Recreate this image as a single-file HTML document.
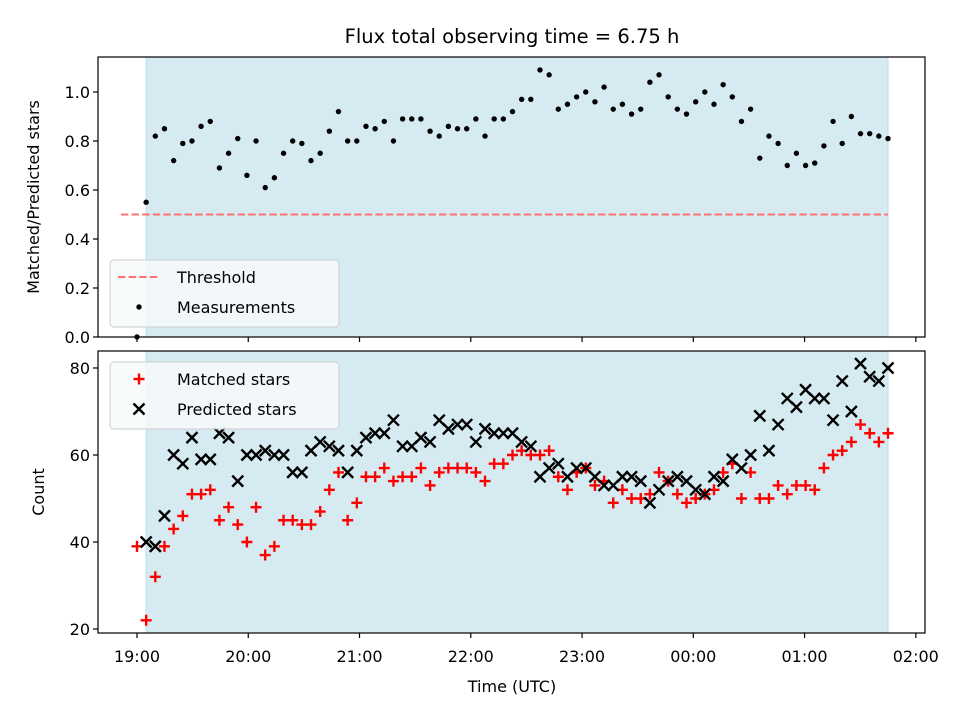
<!DOCTYPE html>
<html><head><meta charset="utf-8"><style>
body{margin:0;background:#fff}
svg{display:block;font-family:"DejaVu Sans","Liberation Sans",sans-serif}
</style></head><body>
<svg id="fig" width="960" height="720" viewBox="0 0 960 720"></svg>
<script>
const ratio=[0.00,0.55,0.82,0.85,0.72,0.79,0.80,0.86,0.88,0.69,0.75,0.81,0.66,0.80,0.61,0.65,0.75,0.80,0.79,0.72,0.75,0.84,0.92,0.80,0.80,0.86,0.85,0.88,0.80,0.89,0.89,0.89,0.84,0.82,0.86,0.85,0.85,0.89,0.82,0.89,0.89,0.92,0.97,0.97,1.09,1.07,0.93,0.95,0.98,1.00,0.96,1.02,0.93,0.95,0.91,0.93,1.04,1.07,0.98,0.93,0.91,0.96,1.00,0.95,1.03,0.98,0.88,0.93,0.73,0.82,0.79,0.70,0.75,0.70,0.71,0.78,0.88,0.79,0.90,0.83,0.83,0.82,0.81];
const matched=[39,22,32,39,43,46,51,51,52,45,48,44,40,48,37,39,45,45,44,44,47,52,56,45,49,55,55,57,54,55,55,57,53,56,57,57,57,56,54,58,58,60,61,60,60,61,55,52,56,57,53,54,49,52,50,50,51,56,54,51,49,50,51,52,56,58,50,56,50,50,53,51,53,53,52,57,60,61,63,67,65,63,65];
const predicted=[null,40,39,46,60,58,64,59,59,65,64,54,60,60,61,60,60,56,56,61,63,62,61,56,61,64,65,65,68,62,62,64,63,68,66,67,67,63,66,65,65,65,63,62,55,57,58,55,57,57,55,53,53,55,55,54,49,52,54,55,54,52,51,55,54,59,57,60,69,61,67,73,71,75,73,73,68,77,70,81,78,77,80];
const threshold=0.5;
const totalHours=6.75;
const xTickLabels=["19:00","20:00","21:00","22:00","23:00","00:00","01:00","02:00"];
const topYTicks=[0.0,0.2,0.4,0.6,0.8,1.0];
const botYTicks=[20,40,60,80];

const NS="http://www.w3.org/2000/svg";
const svg=document.getElementById('fig');
function el(tag,attrs,parent){const e=document.createElementNS(NS,tag);for(const k in attrs)e.setAttribute(k,attrs[k]);(parent||svg).appendChild(e);return e;}
const L=98,R=925;
const T1=57,B1=337,T2=351,B2=633;
const hx=h=>137+h*111.26;
const times=ratio.map((_,i)=>i*totalHours/(ratio.length-1));
const y1=v=>337-v*245;
const y2=v=>368+(80-v)*4.35;

[[T1,B1,'top'],[T2,B2,'bottom']].forEach(([t,b,n])=>{
  const r=el('rect',{x:L,y:t,width:R-L,height:b-t,fill:'#fff'});
  
  const s=el('rect',{x:hx(times[1]),y:t,width:hx(times[times.length-1])-hx(times[1]),height:b-t,fill:'#d5ebf1',stroke:'#bcdde8','stroke-width':1});
  
});

const th=el('line',{x1:121,x2:hx(times[times.length-1]),y1:y1(threshold),y2:y1(threshold),stroke:'#ff7070','stroke-width':2,'stroke-dasharray':'7.4,3.2'});


ratio.forEach((v,i)=>{const c=el('circle',{cx:hx(times[i]),cy:y1(v),r:2.7,fill:'#000'});
});

function plus(x,y,col){return el('path',{d:`M${x-5.5},${y}H${x+5.5}M${x},${y-5.5}V${y+5.5}`,stroke:col,'stroke-width':2.4,fill:'none'});}
function cross(x,y,col){return el('path',{d:`M${x-5.5},${y-5.5}L${x+5.5},${y+5.5}M${x-5.5},${y+5.5}L${x+5.5},${y-5.5}`,stroke:col,'stroke-width':2.4,fill:'none'});}
matched.forEach((v,i)=>{const p=plus(hx(times[i]),y2(v),'#ff0000');
});
predicted.forEach((v,i)=>{if(v==null)return;const p=cross(hx(times[i]),y2(v),'#000');
});

[[T1,B1,'top'],[T2,B2,'bottom']].forEach(([t,b,n])=>{
  const r=el('rect',{x:L,y:t,width:R-L,height:b-t,fill:'none',stroke:'#000','stroke-width':1.2});
  
  xTickLabels.forEach((lab,i)=>{const x=hx(i);const tk=el('line',{x1:x,x2:x,y1:b,y2:b+5,stroke:'#000','stroke-width':1.2});
   
   if(n==='bottom'){const tx=el('text',{x:x,y:b+29,'font-size':16,'text-anchor':'middle'});tx.textContent=lab;
   }});
});
topYTicks.forEach(v=>{const y=y1(v);el('line',{x1:L-5,x2:L,y1:y,y2:y,stroke:'#000','stroke-width':1.2});
 const t=el('text',{x:L-8,y:y+6,'font-size':16,'text-anchor':'end'});t.textContent=v.toFixed(1);
 });
botYTicks.forEach(v=>{const y=y2(v);el('line',{x1:L-5,x2:L,y1:y,y2:y,stroke:'#000','stroke-width':1.2});
 const t=el('text',{x:L-8,y:y+6,'font-size':16,'text-anchor':'end'});t.textContent=v;
 });

let t=el('text',{x:512,y:43,'font-size':19.5,'text-anchor':'middle'});t.textContent='Flux total observing time = 6.75 h';

t=el('text',{x:512,y:692,'font-size':16,'text-anchor':'middle'});t.textContent='Time (UTC)';

t=el('text',{x:0,y:0,'font-size':16,'text-anchor':'middle',transform:'translate(39,197) rotate(-90)'});t.textContent='Matched/Predicted stars';

t=el('text',{x:0,y:0,'font-size':16,'text-anchor':'middle',transform:'translate(44,492) rotate(-90)'});t.textContent='Count';


function legend(y0,name,entries){
 const g=el('g',{});
 el('rect',{x:110,y:y0,width:229,height:67,rx:4,fill:'#f7fafc','fill-opacity':0.85,stroke:'#cccccc'},g);
 entries.forEach((e,i)=>{const yy=y0+17+i*30;e.draw(g,yy);
  const tx=el('text',{x:177,y:yy+6,'font-size':16},g);tx.textContent=e.label;
  });
}
legend(260,'top-legend',[
 {label:'Threshold',draw:(g,y)=>el('line',{x1:118,x2:160,y1:y,y2:y,stroke:'#ff7070','stroke-width':2,'stroke-dasharray':'7.4,3.2'},g)},
 {label:'Measurements',draw:(g,y)=>el('circle',{cx:139,cy:y,r:2.7,fill:'#000'},g)}]);
legend(362,'bottom-legend',[
 {label:'Matched stars',draw:(g,y)=>{const p=plus(139,y,'#ff0000');g.appendChild(p);}},
 {label:'Predicted stars',draw:(g,y)=>{const p=cross(139,y,'#000');g.appendChild(p);}}]);
</script>
</body></html>
